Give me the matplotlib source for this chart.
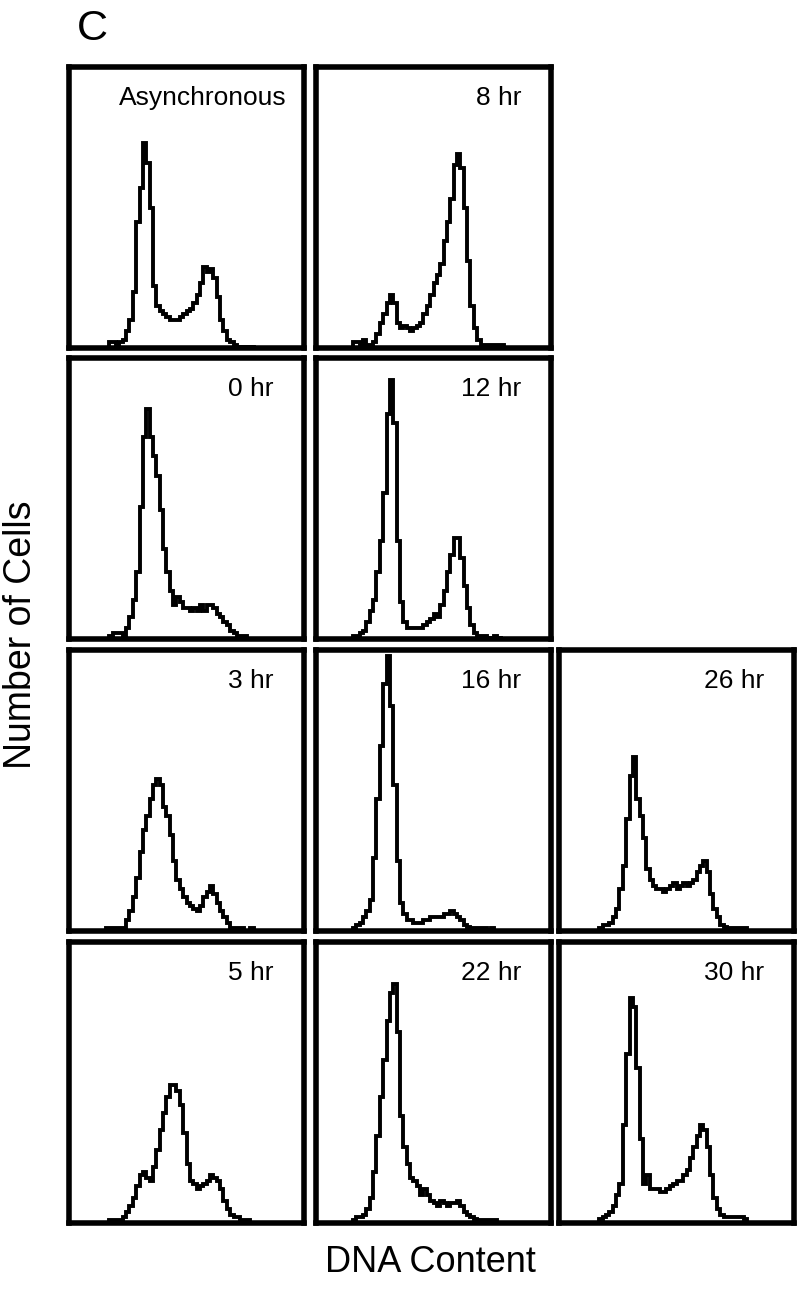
import matplotlib
matplotlib.use('Agg')
import matplotlib.pyplot as plt
import numpy as np

plt.rcParams['font.family'] = ['Liberation Sans', 'DejaVu Sans']

# histogram counts per channel (first channel given by *_start), scale 0-100 = panel height
async_start = 12
async_counts = [2, 2, 1, 2, 3, 6, 10, 20, 45, 57, 73, 66, 50, 22, 15, 13, 12, 11, 10, 10,
                10, 11, 12, 13, 14, 16, 19, 23, 29, 27, 28, 25, 18, 10, 6, 3, 2, 1, 0.5, 0.5,
                0.5, 0.5, 0.5]
h0_start = 12
h0_counts = [1, 2, 2, 2, 1, 4, 8, 14, 24, 47, 72, 82, 72, 65, 58, 46, 32, 24, 17, 12,
             15, 13, 11, 11, 10, 11, 10, 12, 10, 12, 12, 11, 9, 8, 6, 5, 3, 2, 1, 1, 1]
h3_start = 11
h3_counts = [1, 1, 1, 1, 1, 1, 4, 7, 12, 19, 28, 36, 41, 47, 52, 54, 52, 44, 41, 34,
             25, 18, 15, 12, 10, 9, 8, 7, 9, 12, 14, 16, 13, 10, 7, 5, 3, 1, 1, 1,
             1, 0, 0, 1]
h5_start = 12
h5_counts = [1, 1, 1, 1, 2, 4, 6, 9, 13, 17, 18, 16, 15, 20, 26, 33, 39, 45, 49, 49,
             47, 42, 32, 21, 15, 14, 12, 13, 14, 15, 17, 16, 15, 12, 8, 5, 3, 2, 2, 1,
             1, 1]
h8_start = 11
h8_counts = [2, 2, 1, 3, 1, 1, 2, 5, 9, 12, 16, 19, 16, 9, 7, 8, 7, 6, 7, 8,
             9, 12, 15, 19, 23, 26, 30, 38, 45, 53, 65, 69, 64, 50, 31, 15, 7, 3, 1, 1,
             1, 1, 1, 1, 1]
h12_start = 11
h12_counts = [1, 1, 2, 3, 6, 10, 14, 24, 35, 52, 80, 92, 77, 35, 13, 6, 4, 4, 4, 4,
              4, 5, 6, 7, 9, 8, 12, 17, 24, 30, 36, 36, 29, 19, 11, 5, 2, 1, 1, 1,
              0.5, 0.5, 1, 0.5]
h16_start = 11
h16_counts = [1, 2, 3, 5, 7, 11, 26, 47, 66, 88, 98, 80, 52, 25, 10, 6, 4, 4, 3, 3,
              3, 4, 4, 5, 5, 5, 5, 6, 6, 7, 6, 5, 4, 2, 1.5, 1, 1, 1, 1, 1,
              0.5, 1]
h22_start = 11
h22_counts = [1, 2, 2, 3, 5, 9, 18, 31, 45, 58, 72, 82, 85, 68, 38, 27, 21, 16, 15, 13,
              10, 12, 10, 8, 7, 6, 8, 7, 6, 7, 7, 8, 6, 4, 3, 2, 1.5, 1, 1, 1,
              1, 1, 1]
h26_start = 12
h26_counts = [1, 2, 2, 3, 5, 8, 15, 23, 40, 55, 62, 47, 41, 33, 22, 18, 16, 15, 15, 14,
              15, 16, 17, 15, 16, 17, 16, 17, 18, 21, 23, 25, 21, 13, 8, 5, 2, 1.5, 1, 1,
              1, 1, 1, 1]
h30_start = 12
h30_counts = [1.5, 2, 3, 4, 6, 10, 14, 35, 60, 80, 77, 55, 30, 14, 17, 12, 12, 12, 11, 11,
              12, 13, 14, 15, 15, 17, 19, 23, 27, 31, 35, 33, 27, 17, 9, 5, 3, 2, 2, 2,
              2, 2, 2, 1.5]

# (label, start, counts, row, col)
panels = [
    ('Asynchronous', async_start, async_counts, 0, 0),
    ('0 hr', h0_start, h0_counts, 1, 0),
    ('3 hr', h3_start, h3_counts, 2, 0),
    ('5 hr', h5_start, h5_counts, 3, 0),
    ('8 hr', h8_start, h8_counts, 0, 1),
    ('12 hr', h12_start, h12_counts, 1, 1),
    ('16 hr', h16_start, h16_counts, 2, 1),
    ('22 hr', h22_start, h22_counts, 3, 1),
    ('26 hr', h26_start, h26_counts, 2, 2),
    ('30 hr', h30_start, h30_counts, 3, 2),
]

W, H = 800, 1293
fig = plt.figure(figsize=(W / 100, H / 100), dpi=100)

col_left = [69, 316, 559]
row_top = [67, 358, 650, 942]
pw, ph = 235, 281

for label, start, counts, row, col in panels:
    x0 = col_left[col]
    y0 = row_top[row]
    ax = fig.add_axes([x0 / W, 1 - (y0 + ph) / H, pw / W, ph / H])
    edges = np.arange(start, start + len(counts) + 1)
    ax.stairs(counts, edges, color='black', lw=2.8, baseline=0)
    ax.set_xlim(0, 70)
    ax.set_ylim(0, 100)
    ax.set_xticks([])
    ax.set_yticks([])
    for s in ax.spines.values():
        s.set_linewidth(4)
    # label sits in the top right corner
    xr = 1 - 17 / pw if label == 'Asynchronous' else 1 - 30 / pw
    ax.text(xr, 1 - 38 / ph, label, transform=ax.transAxes, ha='right',
            va='baseline', fontsize=19)

fig.text(77 / W, 1 - 40 / H, 'C', ha='left', va='baseline', fontsize=31)
fig.text(21 / W, 1 - 635 / H, 'Number of Cells', rotation=90, ha='center',
         va='center', fontsize=27)
fig.text(430 / W, 1 - 1262 / H, 'DNA Content', ha='center', va='center',
         fontsize=26)

fig.savefig('out.png', dpi=100)
